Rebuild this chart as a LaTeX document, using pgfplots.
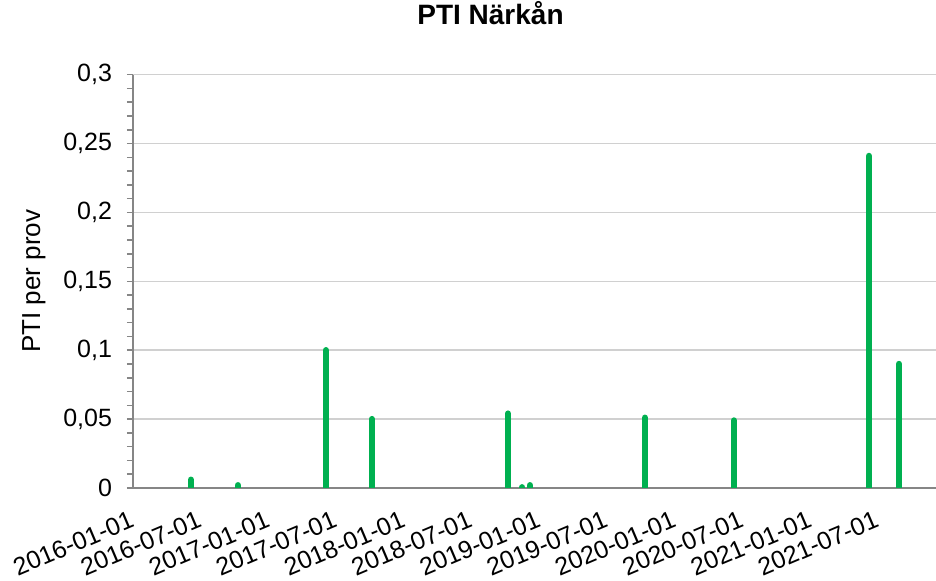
\documentclass[border=0pt]{standalone}
\usepackage{fontspec}
\setmainfont{Liberation Sans}
\usepackage{pgfplots}
\pgfplotsset{compat=1.18}
\definecolor{bargreen}{HTML}{00B050}
\definecolor{axgray}{HTML}{868686}
\definecolor{gridgray}{HTML}{D0D0D0}
\begin{document}
\begin{tikzpicture}
\begin{axis}[
  scale only axis, width=401.5pt, height=206.65pt,
  xmin=0, xmax=2165, ymin=0, ymax=0.3,
  axis x line*=bottom, axis y line*=left,
  axis line style={axgray, line width=1pt},
  xtick={0,182,366,547,731,912,1096,1277,1461,1643,1827,2008},
  xticklabels={2016-01-01,2016-07-01,2017-01-01,2017-07-01,2018-01-01,2018-07-01,2019-01-01,2019-07-01,2020-01-01,2020-07-01,2021-01-01,2021-07-01},
  x tick style={draw=none},
  xticklabel style={rotate=23, anchor=north east, font=\fontsize{12.5}{14}\selectfont, yshift=-6.5pt, xshift=-5pt, inner sep=0pt},
  ytick={0,0.05,0.1,0.15,0.2,0.25,0.3},
  minor y tick num=4,
  tick align=outside,
  major tick length=3pt, minor tick length=3pt,
  y tick style={axgray, line width=0.8pt},
  ymajorgrids, major grid style={gridgray, line width=0.8pt},
  /pgf/number format/assume math mode=true,
  yticklabel style={font=\fontsize{12.5}{14}\selectfont, xshift=-4pt, /pgf/number format/.cd, fixed, precision=2, use comma, assume math mode=true},
  scaled y ticks=false,
  ylabel={PTI per prov},
  ylabel style={font=\fontsize{13}{15}\selectfont, at={(axis description cs:-0.1233,0.5)}, anchor=center},
  title={PTI Närkån},
  title style={font=\bfseries\fontsize{14}{16}\selectfont, at={(axis description cs:0.4452,1.1211)}, anchor=center},
]
\addplot[ycomb, draw=bargreen, line width=3.2pt, line cap=round] coordinates {
(156,0.006) (283,0.002) (520,0.1) (644,0.05) (1011,0.054) (1049,0.0005) (1070,0.002) (1380,0.051) (1620,0.049) (1984,0.241) (2065,0.09)
};
\end{axis}
\pgfresetboundingbox
\path ([shift={(-66.5pt,-46.5pt)}]current axis.south west) rectangle ([shift={(0pt,37.35pt)}]current axis.north east);
\end{tikzpicture}
\end{document}
